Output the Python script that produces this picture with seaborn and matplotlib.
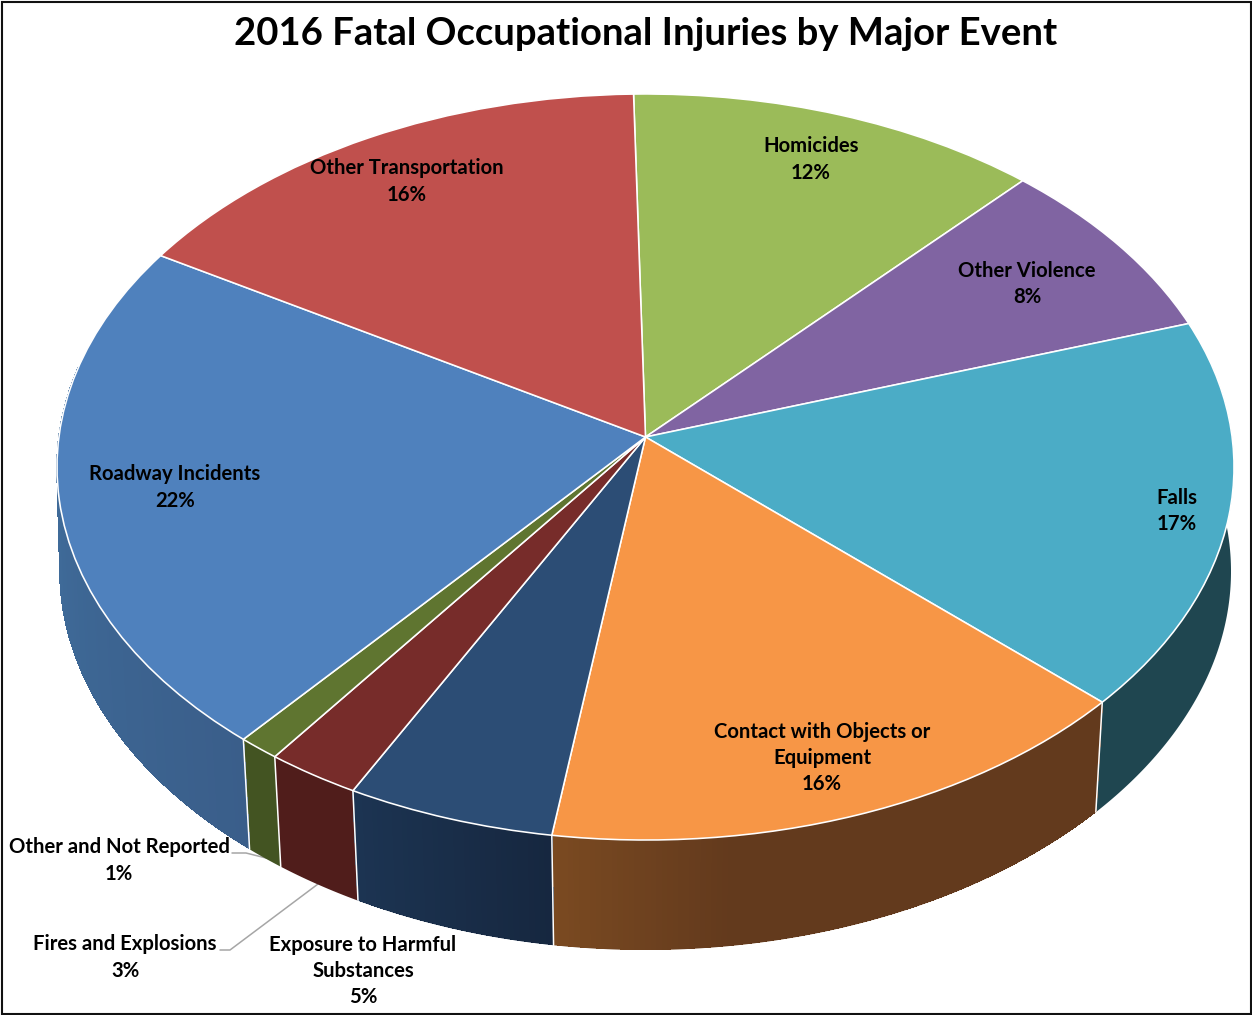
import numpy as np
import matplotlib
matplotlib.use("Agg")
import matplotlib.pyplot as plt
from matplotlib.collections import PolyCollection
from matplotlib.colors import to_rgb
from matplotlib.patches import Polygon, Rectangle
from matplotlib.transforms import Transform
import seaborn as sns

# --- data (clockwise from the top of the pie) ---
categories = ["Homicides", "Other Violence", "Falls", "Contact with Objects or\nEquipment",
              "Exposure to Harmful\nSubstances", "Fires and Explosions",
              "Other and Not Reported", "Roadway Incidents", "Other Transportation"]
shares = [12.28, 8.0, 16.92, 15.53, 5.32, 2.4, 1.06, 22.4, 16.15]
pct_labels = [12, 8, 17, 16, 5, 3, 1, 22, 16]

top_colors = ["#9BBB59", "#8064A2", "#4BACC6", "#F79646", "#2C4D75",
              "#772C2A", "#5F7530", "#4F81BD", "#C0504D"]
wall_left = ["#5F7530", "#4D3C61", "#1F4650", "#7A4A21", "#1C3452",
             "#501D1B", "#435422", "#41709F", "#7A3230"]
wall_right = ["#5F7530", "#4D3C61", "#1F4650", "#633A1D", "#16273F",
              "#501D1B", "#435422", "#3A5E8A", "#7A3230"]
wall_ramp = [1, 1, 1, 3.5, 1, 1, 1, 1, 1]

label_xy = [(811, 159.5), (1027, 284), (1177, 511), (822, 758), (363, 971),
            (125, 957.5), (119, 860.5), (175, 487.5), (407, 181.5)]
title = "2016 Fatal Occupational Injuries by Major Event"

# --- view parameters of the tilted pie, in image pixels ---
CX, CY = 645.5, 437.0
A, B, K = 370.6, 586.6, 0.0804
DEPTH = 110.0
WALL_SCALE_SIDE, WALL_SCALE_SLOPE = 0.996, 0.015
START_ANGLE = 91.26


class TiltedPie(Transform):
    input_dims = output_dims = 2
    is_separable = False
    has_inverse = False

    def transform_non_affine(self, values):
        values = np.asarray(values, dtype=float)
        v = -values[:, 1]
        w = 1 - K * v
        return np.column_stack((CX + B * values[:, 0] / w, CY + A * v / w))


sns.set_theme(style="white")
plt.rcParams["font.family"] = ["Lato", "DejaVu Sans"]
palette = sns.color_palette(top_colors)

fig = plt.figure(figsize=(12.52, 10.15), dpi=100, facecolor="white")
ax = fig.add_axes([0, 0, 1, 1])

wedges, _ = ax.pie(shares, colors=palette, startangle=START_ANGLE, counterclock=False,
                   wedgeprops=dict(edgecolor="white", linewidth=1.15, zorder=5))
ax.set_aspect("auto")
ax.set_xlim(0, 1252)
ax.set_ylim(1015, 0)
ax.axis("off")

tilt = TiltedPie()
for w in wedges:
    w.set_transform(tilt + ax.transData)


def top_rim(theta_deg):
    t = np.radians(theta_deg)
    return tilt.transform_non_affine(np.column_stack((np.cos(t), np.sin(t))))


def bottom_rim(theta_deg):
    p = top_rim(theta_deg)
    s = WALL_SCALE_SIDE + WALL_SCALE_SLOPE * np.sin(np.radians(theta_deg))
    return np.column_stack((CX + s * (p[:, 0] - CX), p[:, 1] + DEPTH))


# side wall of every slice that faces the viewer (angles rise from left to right)
for w, c0, c1, ramp in zip(wedges, wall_left, wall_right, wall_ramp):
    lo, hi = sorted((w.theta1, w.theta2))
    angles = np.append(np.arange(lo, hi, 0.5), hi)
    angles = angles[np.sin(np.radians(angles)) < 0.2]
    if len(angles) < 2:
        continue
    t_pts, b_pts = top_rim(angles), bottom_rim(angles)
    c0, c1 = np.array(to_rgb(c0)), np.array(to_rgb(c1))
    # smooth outline in the middle colour, then the unsmoothed gradient bands inside it
    ax.add_patch(Polygon(np.vstack((t_pts, b_pts[::-1])), closed=True,
                         facecolor=(c0 + c1) / 2, edgecolor="none", zorder=2))
    if np.allclose(c0, c1):
        continue
    inset = b_pts - np.array([0, 1.0])
    quads, cols = [], []
    for i in range(len(t_pts) - 1):
        f = min(1.0, ramp * i / max(1, len(t_pts) - 2))
        quads.append([t_pts[i], t_pts[i + 1], inset[i + 1], inset[i]])
        cols.append(c0 + (c1 - c0) * f)
    ax.add_collection(PolyCollection(quads, facecolors=cols, edgecolors=cols, linewidths=0.5,
                                     antialiaseds=False, zorder=2.5))

# white seams between walls
for w in wedges:
    a = np.array([w.theta1])
    if np.sin(np.radians(a[0])) < 0:
        t, b = top_rim(a)[0], bottom_rim(a)[0]
        ax.plot([t[0], b[0]], [t[1], b[1]], color="white", lw=1.1, zorder=3)

# labels
for name, pct, (x, y) in zip(categories, pct_labels, label_xy):
    ax.text(x, y, f"{name}\n{pct}%", ha="center", va="center", fontsize=14.55,
            fontweight="bold", color="black", linespacing=1.4, zorder=8)

# leader lines
ax.plot([232, 246, 278], [853, 853, 861], color="#A6A6A6", lw=1.1, zorder=1)
ax.plot([220, 230, 318], [950, 950, 884], color="#A6A6A6", lw=1.1, zorder=1)

ax.text(646, 34, title, ha="center", va="center", fontsize=27.5, fontweight="bold", color="black")

ax.add_patch(Rectangle((1.5, 1.5), 1249, 1012, fill=False, edgecolor="#111111", lw=1.5,
                       clip_on=False, zorder=9))

fig.savefig("out.png", dpi=100, facecolor="white")
